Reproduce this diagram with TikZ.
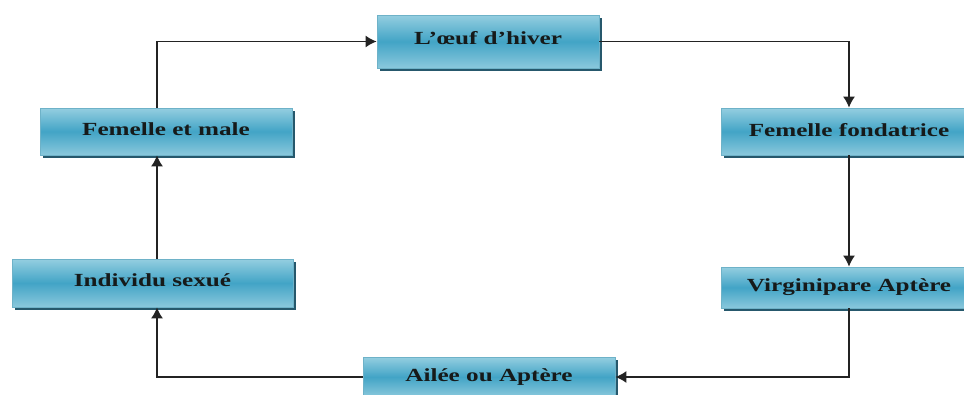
\documentclass[tikz,border=0pt]{standalone}
\usepackage{fontspec}
\setmainfont{Liberation Serif}
\usetikzlibrary{arrows.meta,shadows}
\definecolor{boxtop}{RGB}{148,206,224}
\definecolor{boxmid}{RGB}{66,164,198}
\definecolor{boxbot}{RGB}{138,200,220}
\definecolor{boxline}{RGB}{110,178,200}
\definecolor{boxshadow}{RGB}{38,88,108}
\definecolor{txt}{RGB}{22,26,26}
\definecolor{wire}{RGB}{35,35,35}
\tikzset{
  stage/.style={draw=boxline, line width=0.8pt, top color=boxtop, bottom color=boxbot,
    middle color=boxmid, inner sep=0pt, anchor=center, text=txt,
    font=\fontsize{18.5}{20}\selectfont\bfseries,
    general shadow={fill=boxshadow, shadow xshift=2.5pt, shadow yshift=-2.5pt}},
  link/.style={draw=wire, line width=1.4pt, -{Latex[length=11pt,width=12pt]}}
}
\newcommand{\lbl}[2]{\raisebox{#1}{\scalebox{1.36}[1]{#2}}}
\begin{document}
\begin{tikzpicture}[x=1pt,y=1pt]
\useasboundingbox (0,-394) rectangle (964,0);
\fill[white] (0,-394) rectangle (964,0);
% the six stages of the cycle
\node[stage, minimum width=222pt, minimum height=53pt] (oeuf) at (488,-41.5) {\lbl{8pt}{L’œuf d’hiver}};
\node[stage, minimum width=252pt, minimum height=47pt] (fm) at (166,-131.5) {\lbl{4pt}{Femelle et male}};
\node[stage, minimum width=256pt, minimum height=47pt] (ff) at (849,-131.5) {\lbl{4pt}{Femelle fondatrice}};
\node[stage, minimum width=281pt, minimum height=48pt] (is) at (152.5,-283) {\lbl{5pt}{Individu sexué}};
\node[stage, minimum width=256pt, minimum height=41pt] (va) at (849,-287.5) {\lbl{2pt}{Virginipare Aptère}};
\node[stage, minimum width=252pt, minimum height=40pt] (aa) at (489,-377) {\lbl{0pt}{Ailée ou Aptère}};
% columns of the vertical connectors
\coordinate (xl) at (157,0);
\coordinate (xr) at (849,0);
% connectors
\draw[link] (xl |- fm.north) |- (oeuf.west);
\draw[link] (oeuf.east) -| (xr |- ff.north);
\draw[link] (xr |- ff.south) -- (xr |- va.north);
\draw[link] (xr |- va.south) |- (aa.east);
\draw[link] (aa.west) -| (xl |- is.south);
\draw[link] (xl |- is.north) -- (xl |- fm.south);
\end{tikzpicture}
\end{document}
